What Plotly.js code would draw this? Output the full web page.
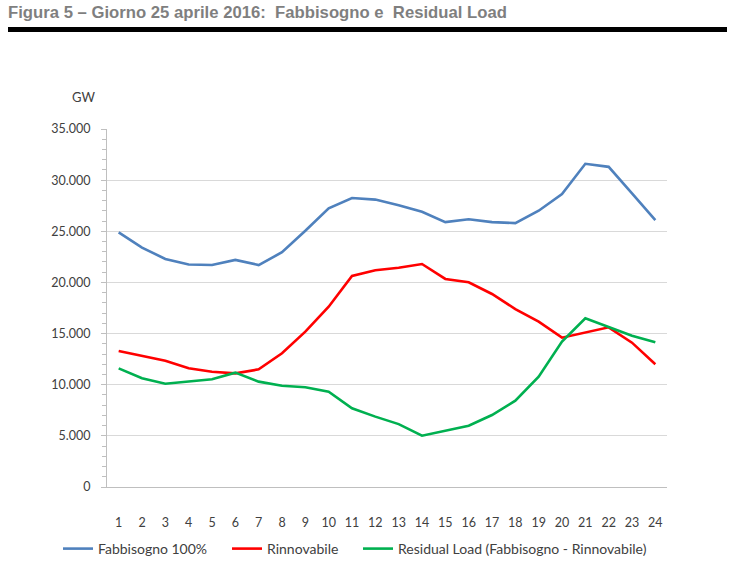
<!DOCTYPE html>
<html>
<head>
<meta charset="utf-8">
<script src="https://cdn.plot.ly/plotly-3.0.1.min.js"></script>
<style>html,body{margin:0;padding:0;background:#fff;}#chart{width:738px;height:561px;}</style>
</head>
<body>
<div id="chart"></div>
<script>
const hours = [1,2,3,4,5,6,7,8,9,10,11,12,13,14,15,16,17,18,19,20,21,22,23,24];
const fabbisogno = [24900,23400,22300,21750,21700,22200,21700,22950,25050,27250,28250,28100,27550,26900,25900,26170,25900,25800,27010,28650,31600,31300,28700,26100];
const rinnovabile = [13300,12840,12350,11600,11270,11110,11500,13070,15190,17630,20630,21190,21440,21800,20340,20010,18870,17400,16160,14600,15090,15610,14110,12000];
const residual = [11600,10630,10100,10300,10530,11180,10300,9900,9750,9320,7690,6880,6150,5020,5500,5990,7040,8440,10780,14210,16490,15670,14790,14150];
const seriesNames = ["Fabbisogno 100%","Rinnovabile","Residual Load (Fabbisogno - Rinnovabile)"];
const yTicks = [0,5000,10000,15000,20000,25000,30000,35000];

const font = "Lato, 'Open Sans', sans-serif";
const mk = (y, name, color, lg) => ({x: hours, y: y, name: name, type: 'scatter', mode: 'lines',
  line: {color: color, width: 2.6}, legend: lg});
const data = [
  mk(fabbisogno, seriesNames[0], '#4F81BD', 'legend'),
  mk(rinnovabile, seriesNames[1], '#FF0000', 'legend2'),
  mk(residual, seriesNames[2], '#00B050', 'legend3')
];
const W=738, H=561;
const L=107, R=667, T=129, B=487;
const px = v => (v - L)/(R - L);
const py = v => (B - v)/(B - T);
const legFont = {family: font, size: 14, color: '#404040'};
const mkLeg = x => ({orientation: 'h', xref: 'container', yref: 'container', x: x/W, xanchor: 'left',
  y: 1 - 549/H, yanchor: 'middle', font: legFont, bgcolor: 'rgba(0,0,0,0)', itemwidth: 30, borderwidth: 0});
const layout = {
  width: W, height: H,
  margin: {l: L, r: W-R, t: T, b: H-B, pad: 0, autoexpand: false},
  paper_bgcolor: '#fff', plot_bgcolor: '#fff',
  separators: ',.',
  font: {family: font, size: 12, color: '#404040'},
  title: {text: 'Figura 5 – Giorno 25 aprile 2016:  Fabbisogno e  Residual Load',
    xref: 'container', yref: 'container', x: 8/W, xanchor: 'left', y: 1 - 12/H, yanchor: 'middle', automargin: false,
    font: {family: "'Liberation Sans Narrow', 'Liberation Sans', Arial, sans-serif", size: 16.7, weight: 'bold', color: '#7F7F7F'}},
  xaxis: {range: [0.5, 24.5], tickvals: hours, ticktext: hours.map(String), showgrid: false, automargin: false,
    showline: true, linecolor: '#BFBFBF', linewidth: 1, ticks: '', zeroline: false,
    ticklabelstandoff: 24, tickfont: {family: font, size: 12.5, color: '#404040'}, fixedrange: true},
  yaxis: {range: [0, 35000], tickvals: yTicks, tickformat: ',d', showgrid: true, gridcolor: '#D9D9D9', gridwidth: 1, automargin: false,
    showline: true, linecolor: '#BFBFBF', linewidth: 1, ticks: 'outside', ticklen: 5, tickcolor: '#BFBFBF',
    minor: {dtick: 1000, ticks: 'outside', ticklen: 4, tickcolor: '#BFBFBF', showgrid: false},
    zeroline: false, ticklabelstandoff: 8, tickfont: {family: font, size: 12.5, color: '#404040'}, fixedrange: true},
  showlegend: true,
  legend: mkLeg(58),
  legend2: mkLeg(227),
  legend3: mkLeg(358),
  shapes: [{type: 'rect', xref: 'paper', yref: 'paper', x0: px(8), x1: px(727), y0: py(32), y1: py(27),
    fillcolor: '#000', line: {width: 0}}],
  annotations: [{text: 'GW', xref: 'paper', yref: 'paper', x: px(83), y: py(97), xanchor: 'center', yanchor: 'middle',
    showarrow: false, font: {family: font, size: 13, color: '#404040'}}]
};
Plotly.newPlot('chart', data, layout, {displayModeBar: false, staticPlot: true});
</script>
</body>
</html>
